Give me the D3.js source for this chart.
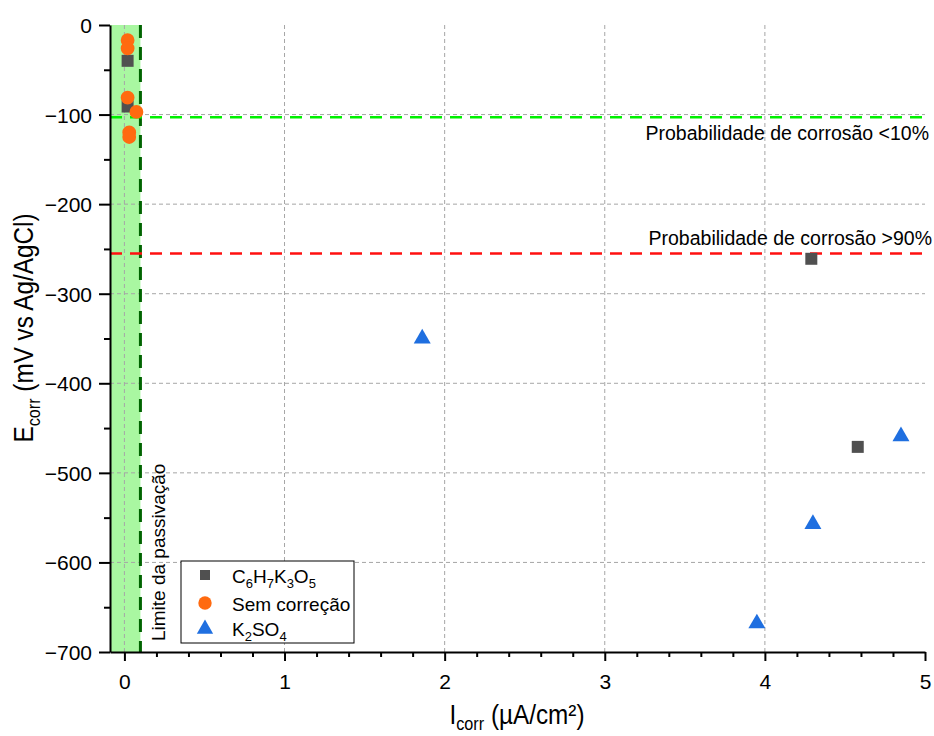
<!DOCTYPE html>
<html>
<head>
<meta charset="utf-8">
<script src="https://cdn.jsdelivr.net/npm/d3@7"></script>
<style>
  html, body { margin: 0; padding: 0; background: #fff; }
  text { font-family: "Liberation Sans", Arial, sans-serif; fill: #000; }
</style>
</head>
<body>
<svg id="chart" width="934" height="736"></svg>
<script>
// Corrosion current vs corrosion potential for three mixes
const seriesNames = ["C6H7K3O5", "Sem correção", "K2SO4"];
const citrateI = [0.02, 0.02, 4.29, 4.58];
const citrateE = [-40, -91, -261, -471];
const plainI = [0.02, 0.02, 0.02, 0.075, 0.03, 0.03];
const plainE = [-17, -26, -81, -97, -120, -125];
const sulfateI = [1.86, 3.95, 4.30, 4.85];
const sulfateE = [-349, -667, -556, -458];

const xTicks = [0, 1, 2, 3, 4, 5];
const yTicks = [0, -100, -200, -300, -400, -500, -600, -700];
const passivationLimit = 0.1;
const lowRiskE = -103;
const highRiskE = -255;

const svg = d3.select("#chart");
const x = d3.scaleLinear().domain([-0.09, 5]).range([110, 925]);
const y = d3.scaleLinear().domain([-700, 0]).range([652, 25]);

// passivation band
svg.append("rect")
  .attr("x", x(-0.09)).attr("y", y(0))
  .attr("width", x(passivationLimit) - x(-0.09))
  .attr("height", y(-700) - y(0))
  .attr("fill", "#a9f7a1");

// grid
const grid = svg.append("g").attr("stroke", "#a6a6a6").attr("stroke-width", 1).attr("stroke-dasharray", "4,3");
grid.selectAll("line.v").data(xTicks.filter(d => d < 5)).join("line")
  .attr("x1", d => x(d)).attr("x2", d => x(d)).attr("y1", y(0)).attr("y2", y(-700));
grid.selectAll("line.h").data(yTicks.filter(d => d > -700 && d < 0)).join("line")
  .attr("x1", x(-0.09)).attr("x2", x(5)).attr("y1", d => y(d)).attr("y2", d => y(d));

// passivation limit
svg.append("line")
  .attr("x1", x(passivationLimit)).attr("x2", x(passivationLimit))
  .attr("y1", y(0)).attr("y2", y(-700))
  .attr("stroke", "#006400").attr("stroke-width", 3).attr("stroke-dasharray", "13,9");

// risk thresholds
svg.append("line")
  .attr("x1", x(-0.09)).attr("x2", x(5)).attr("y1", y(lowRiskE)).attr("y2", y(lowRiskE))
  .attr("stroke", "#00f000").attr("stroke-width", 2.5).attr("stroke-dasharray", "12,8");
svg.append("line")
  .attr("x1", x(-0.09)).attr("x2", x(5)).attr("y1", y(highRiskE)).attr("y2", y(highRiskE))
  .attr("stroke", "#ff1010").attr("stroke-width", 2.5).attr("stroke-dasharray", "12,8");

svg.append("text").attr("x", 929).attr("y", 140)
  .attr("text-anchor", "end").attr("font-size", 19.5).text("Probabilidade de corrosão <10%");
svg.append("text").attr("x", 932).attr("y", 245)
  .attr("text-anchor", "end").attr("font-size", 19.5).text("Probabilidade de corrosão >90%");

svg.append("text")
  .attr("transform", `translate(${x(passivationLimit) + 25},641) rotate(-90)`)
  .attr("font-size", 19).text("Limite da passivação");

// axes
const xAxis = svg.append("g").attr("transform", `translate(0,${y(-700)})`)
  .call(d3.axisBottom(x).tickValues(xTicks).tickSize(9).tickSizeOuter(0).tickFormat(d3.format("d")));
svg.append("g").attr("transform", `translate(0,${y(-700)})`)
  .call(d3.axisBottom(x).tickValues(d3.range(0.2, 5, 0.2).filter(v => Math.abs(v - Math.round(v)) > 1e-6)).tickSize(5).tickFormat(""))
  .call(g => g.select(".domain").remove());
const yAxis = svg.append("g").attr("transform", `translate(${x(-0.09)},0)`)
  .call(d3.axisLeft(y).tickValues(yTicks).tickSize(11).tickSizeOuter(0).tickFormat(d3.format("d")));
svg.append("g").attr("transform", `translate(${x(-0.09)},0)`)
  .call(d3.axisLeft(y).tickValues(d3.range(-650, 0, 100)).tickSize(6).tickFormat(""))
  .call(g => g.select(".domain").remove());

svg.selectAll(".domain, .tick line").attr("stroke", "#000").attr("stroke-width", 2);
xAxis.selectAll(".tick text").attr("font-size", 21).attr("dy", 0).attr("y", 37);
yAxis.selectAll(".tick text").attr("font-size", 21).attr("x", -18).attr("dy", "0.36em");
svg.selectAll(".tick text").attr("font-family", "'Liberation Sans', Arial, sans-serif").attr("fill", "#000");

// text with subscripted parts: [main, sub, main, sub, ...]
function subscripted(textSel, parts, subSize, shift) {
  let wasSub = false;
  parts.forEach(p => {
    const isSub = /^\d+$/.test(p.text) || p.sub;
    const ts = textSel.append("tspan").text(p.text);
    if (isSub) ts.attr("font-size", subSize).attr("dy", shift);
    else if (wasSub) ts.attr("dy", -shift);
    wasSub = isSub;
  });
}

// axis titles (slightly condensed lettering)
const yt = svg.append("text").attr("transform", "translate(33,328) rotate(-90) scale(0.9,1)")
  .attr("text-anchor", "middle").attr("font-size", 27);
subscripted(yt, [{text: "E"}, {text: "corr", sub: true}, {text: " (mV vs Ag/AgCl)"}], 18, 7);

const xt = svg.append("text").attr("transform", "translate(517,724) scale(0.9,1)")
  .attr("text-anchor", "middle").attr("font-size", 27);
subscripted(xt, [{text: "I"}, {text: "corr", sub: true}, {text: " (µA/cm²)"}], 18, 6);

// markers
const colors = ["#505050", "#ff6a10", "#1f6fe0"];
const square = d3.symbol().type(d3.symbolSquare).size(144);
const circle = d3.symbol().type(d3.symbolCircle).size(150);
const triangle = d3.symbol().type(d3.symbolTriangle).size(125);

const pts = (I, E) => I.map((v, i) => [v, E[i]]);

svg.append("g").selectAll("path").data(pts(citrateI, citrateE)).join("path")
  .attr("d", square).attr("fill", colors[0])
  .attr("transform", d => `translate(${x(d[0])},${y(d[1])})`);
svg.append("g").selectAll("path").data(pts(plainI, plainE)).join("path")
  .attr("d", circle).attr("fill", colors[1])
  .attr("transform", d => `translate(${x(d[0])},${y(d[1])})`);
svg.append("g").selectAll("path").data(pts(sulfateI, sulfateE)).join("path")
  .attr("d", triangle).attr("fill", colors[2])
  .attr("transform", d => `translate(${x(d[0])},${y(d[1]) + 1})`);

// legend
const lg = svg.append("g").attr("transform", "translate(181,561)");
lg.append("rect").attr("width", 173).attr("height", 82)
  .attr("fill", "#fff").attr("stroke", "#000").attr("stroke-width", 1);
const symbols = [d3.symbol().type(d3.symbolSquare).size(100), d3.symbol().type(d3.symbolCircle).size(140), d3.symbol().type(d3.symbolTriangle).size(115)];
const rowY = [14, 42, 67];
seriesNames.forEach((name, i) => {
  lg.append("path").attr("d", symbols[i]).attr("fill", colors[i])
    .attr("transform", `translate(24,${rowY[i] + (i === 2 ? 1 : 0)})`);
  const t = lg.append("text").attr("x", 51).attr("y", rowY[i] + 8).attr("font-size", 19);
  if (i === 1) { t.text(name); return; }
  subscripted(t, name.match(/[A-Za-z]+|\d+/g).map(s => ({text: s})), 13, 5);
});
</script>
</body>
</html>
